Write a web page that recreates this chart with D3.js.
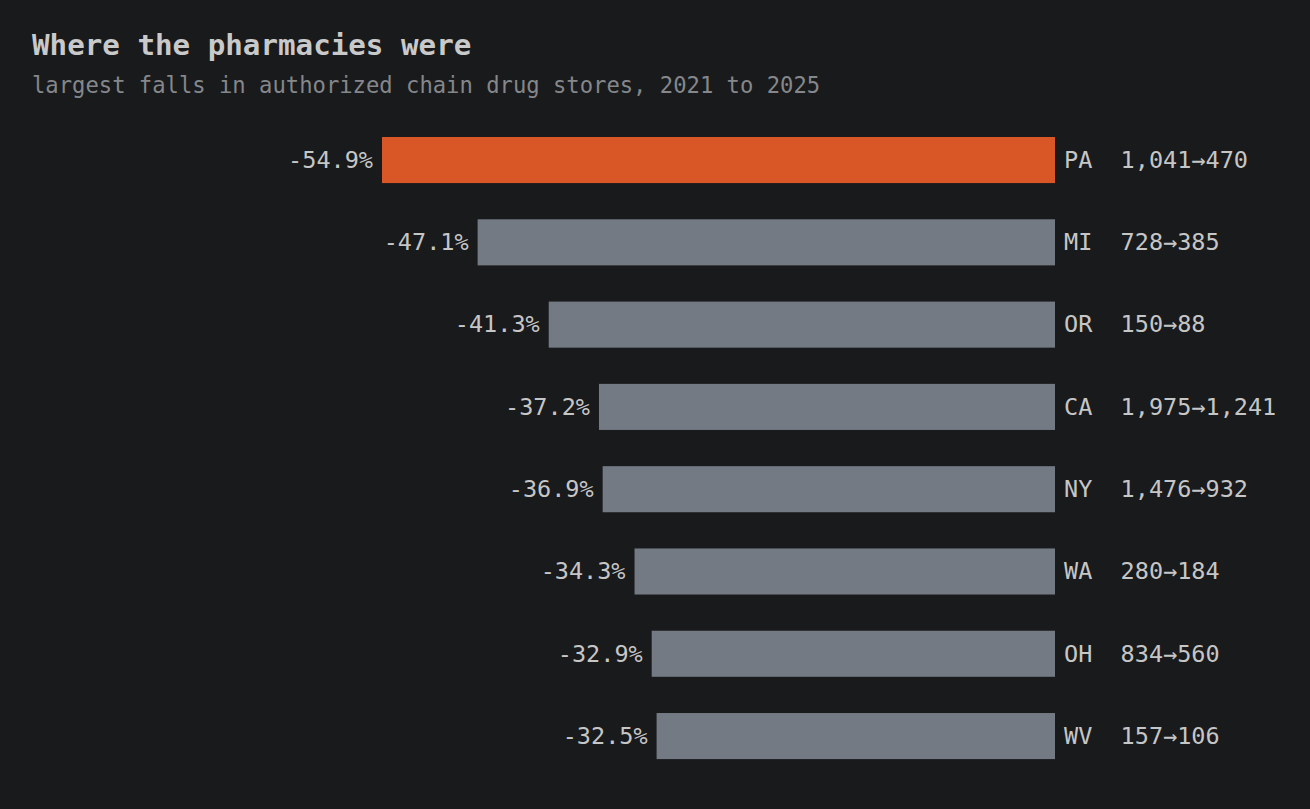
<!DOCTYPE html>
<html>
<head>
<meta charset="utf-8">
<script src="https://cdn.jsdelivr.net/npm/d3@7"></script>
<style>
  html, body { margin: 0; padding: 0; background: #191a1c; }
  svg { display: block; font-family: 'DejaVu Sans Mono', monospace; }
</style>
</head>
<body>
<div id="chart"></div>
<script>
var states = ['PA', 'MI', 'OR', 'CA', 'NY', 'WA', 'OH', 'WV'];
var changes = [-54.9, -47.1, -41.3, -37.2, -36.9, -34.3, -32.9, -32.5];
var stores2021 = [1041, 728, 150, 1975, 1476, 280, 834, 157];
var stores2025 = [470, 385, 88, 1241, 932, 184, 560, 106];

var width = 1310;
var height = 809;
var barRight = 1055;

var data = states.map((s, i) => ({
  state: s,
  change: changes[i],
  from: stores2021[i],
  to: stores2025[i]
}));

var svg = d3
  .select('#chart')
  .append('svg')
  .attr('width', width)
  .attr('height', height);

svg.append('rect')
  .attr('width', width)
  .attr('height', height)
  .attr('fill', '#191a1c');

// title + subtitle
svg.append('text')
  .attr('x', 32)
  .attr('y', 55)
  .attr('fill', '#c9c9c9')
  .attr('font-size', 29.2)
  .attr('font-weight', 'bold')
  .text('Where the pharmacies were');

svg.append('text')
  .attr('x', 32)
  .attr('y', 93)
  .attr('fill', '#85878a')
  .attr('font-size', 22.2)
  .text('largest falls in authorized chain drug stores, 2021 to 2025');

// scales
var x = d3.scaleLinear()
  .domain([0, d3.max(data, d => -d.change)])
  .range([barRight, 382]);

var y = d3.scaleBand()
  .domain(states)
  .range([118.9, 777.2])
  .paddingInner(0.44)
  .paddingOuter(0.22);

var fmt = d3.format(',');

var rows = svg.selectAll('g.row')
  .data(data)
  .enter()
  .append('g')
  .attr('class', 'row');

rows.append('rect')
  .attr('x', d => x(-d.change))
  .attr('y', d => y(d.state))
  .attr('width', d => barRight - x(-d.change))
  .attr('height', y.bandwidth())
  .attr('fill', (d, i) => i === 0 ? '#d95726' : '#737a83');

// percent labels, left of bars
rows.append('text')
  .attr('x', d => x(-d.change) - 9)
  .attr('y', d => y(d.state) + y.bandwidth() / 2)
  .attr('dy', '0.33em')
  .attr('text-anchor', 'end')
  .attr('fill', '#c6c6c6')
  .attr('font-size', 23.5)
  .text(d => d.change.toFixed(1) + '%');

// state + counts, right of bars
rows.append('text')
  .attr('x', barRight + 9)
  .attr('y', d => y(d.state) + y.bandwidth() / 2)
  .attr('dy', '0.33em')
  .attr('fill', '#c6c6c6')
  .attr('font-size', 23.5)
  .style('white-space', 'pre')
  .text(d => d.state + '  ' + fmt(d.from) + '\u2192' + fmt(d.to));
</script>
</body>
</html>
